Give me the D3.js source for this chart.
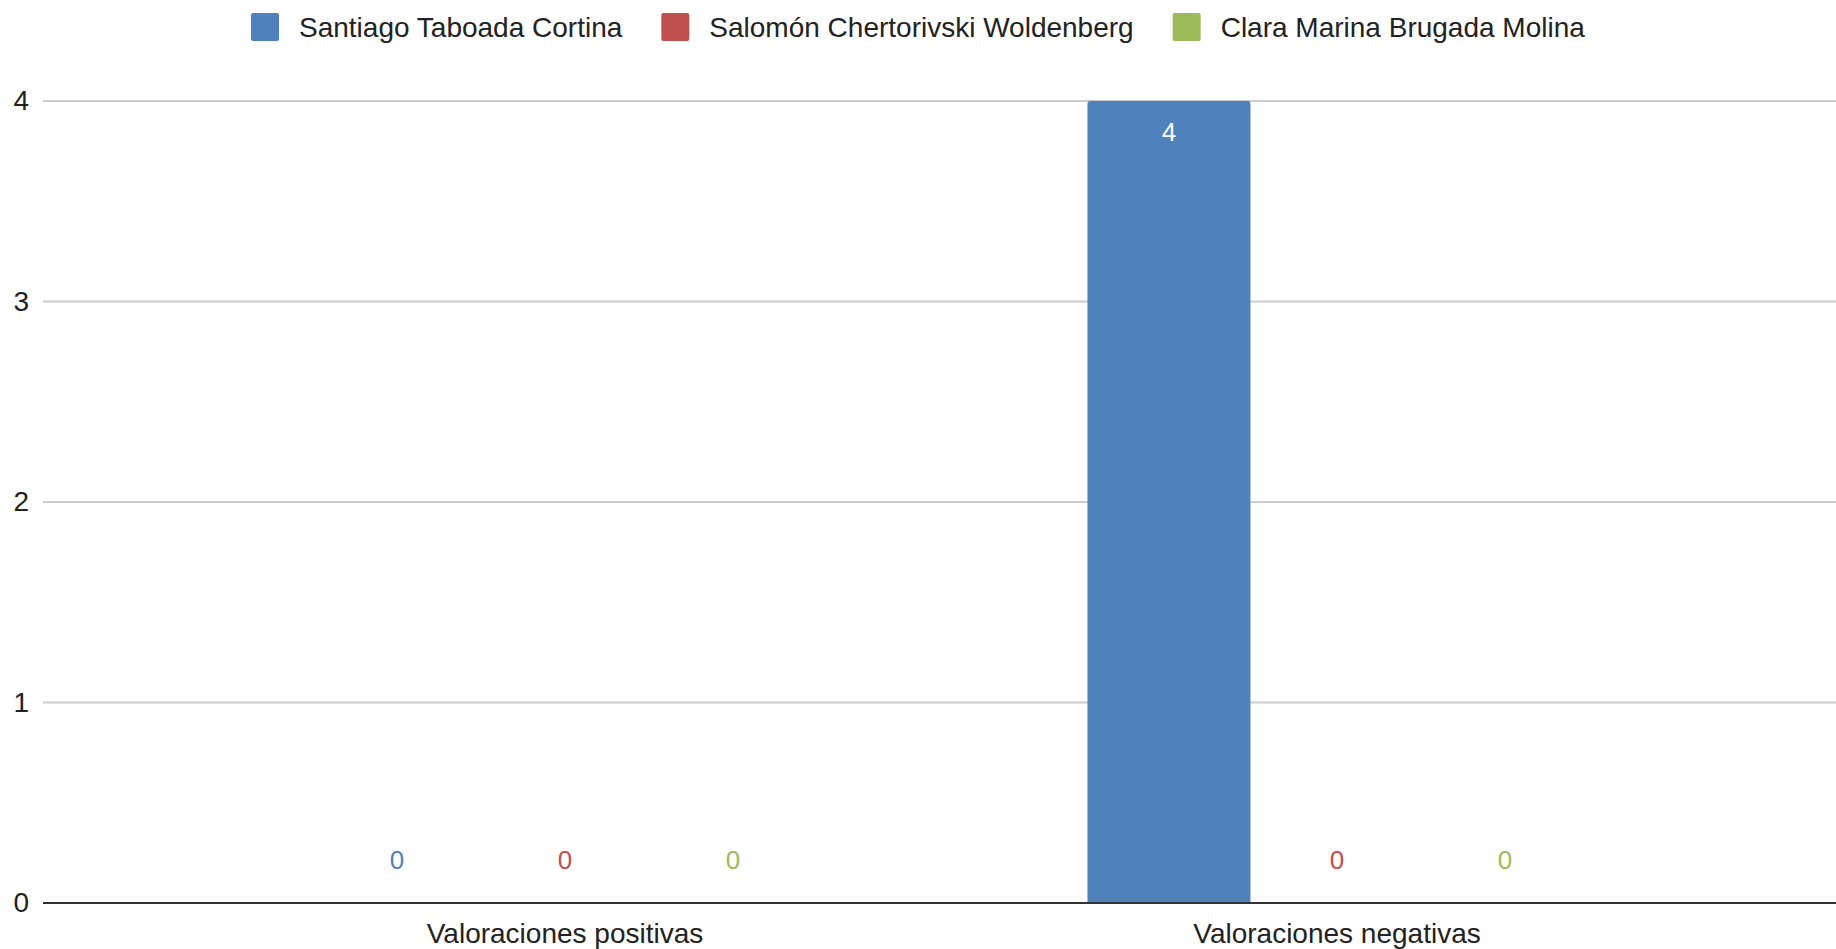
<!DOCTYPE html>
<html>
<head>
<meta charset="utf-8">
<script src="https://cdn.jsdelivr.net/npm/d3@7"></script>
<style>
  body { margin: 0; background: #fff; }
  svg text { font-family: "Liberation Sans", Arial, sans-serif; }
</style>
</head>
<body>
<svg id="chart" width="1836" height="949"></svg>
<script>
// chart data
var categories = ["Valoraciones positivas", "Valoraciones negativas"];
var seriesNames = ["Santiago Taboada Cortina", "Salomón Chertorivski Woldenberg", "Clara Marina Brugada Molina"];
var seriesColors = ["#4f81bd", "#c0504d", "#9bbb59"];
var santiago = [0, 4];
var salomon = [0, 0];
var clara = [0, 0];
var yTicks = [0, 1, 2, 3, 4];

var values = [santiago, salomon, clara];

var svg = d3.select("#chart"),
	width = +svg.attr("width"),
	height = +svg.attr("height");

var plotLeft = 43, plotRight = width;

var y = d3.scaleLinear().domain([0, 4]).range([903, 101]);

var x0 = d3.scaleBand()
	.domain(categories)
	.range([179, 1723])
	.paddingInner(0.347)
	.paddingOuter(0.1735);

var x1 = d3.scaleBand()
	.domain(seriesNames)
	.range([0, x0.bandwidth()])
	.paddingInner(0.03)
	.paddingOuter(0.015);

// gridlines
svg.append("g")
	.attr("class", "grid")
	.selectAll("line")
	.data(yTicks.filter(function(d) { return d != 0; }))
	.enter().append("line")
	.attr("x1", plotLeft)
	.attr("x2", plotRight)
	.attr("y1", function(d) { return y(d); })
	.attr("y2", function(d) { return y(d); })
	.attr("stroke", "#cccccc")
	.attr("stroke-width", 2);

// y tick labels
var yAxis = svg.append("g")
	.attr("transform", "translate(29,0)")
	.call(d3.axisLeft(y).tickValues(yTicks).tickSize(0).tickPadding(0).tickFormat(d3.format("d")));
yAxis.select(".domain").remove();
yAxis.selectAll("text")
	.attr("font-size", 28)
	.attr("font-family", "Liberation Sans, Arial, sans-serif")
	.attr("fill", "#222");

// bars
function barPath(x, y0, w, h, r) {
	if (h <= 0) return "";
	r = Math.min(r, h, w / 2);
	return "M" + x + "," + (y0 + h)
		+ "V" + (y0 + r)
		+ "Q" + x + "," + y0 + " " + (x + r) + "," + y0
		+ "H" + (x + w - r)
		+ "Q" + (x + w) + "," + y0 + " " + (x + w) + "," + (y0 + r)
		+ "V" + (y0 + h) + "Z";
}

var barData = [];
for (var s = 0; s < seriesNames.length; s++) {
	for (var c = 0; c < categories.length; c++) {
		barData.push({ series: seriesNames[s], si: s, cat: categories[c], value: values[s][c] });
	}
}

var bars = svg.append("g").attr("class", "bars");
bars.selectAll("path")
	.data(barData)
	.enter().append("path")
	.attr("fill", function(d) { return seriesColors[d.si]; })
	.attr("d", function(d) {
		var bx = x0(d.cat) + x1(d.series);
		return barPath(bx, y(d.value), x1.bandwidth(), y(0) - y(d.value), 3);
	});

// value labels
bars.selectAll("text")
	.data(barData)
	.enter().append("text")
	.attr("x", function(d) { return x0(d.cat) + x1(d.series) + x1.bandwidth() / 2; })
	.attr("y", function(d) { return d.value > 0 ? y(d.value) + 40 : y(0) - 34; })
	.attr("text-anchor", "middle")
	.attr("font-size", 26)
	.attr("fill", function(d) { return d.value > 0 ? "#ffffff" : seriesColors[d.si]; })
	.text(function(d) { return d.value; });

// zero baseline
svg.append("line")
	.attr("x1", plotLeft)
	.attr("x2", plotRight)
	.attr("y1", y(0))
	.attr("y2", y(0))
	.attr("stroke", "#333333")
	.attr("stroke-width", 2);

// category labels
svg.append("g")
	.selectAll("text")
	.data(categories)
	.enter().append("text")
	.attr("x", function(d) { return x0(d) + x0.bandwidth() / 2; })
	.attr("y", 943)
	.attr("text-anchor", "middle")
	.attr("font-size", 28)
	.attr("fill", "#222")
	.text(function(d) { return d; });

// legend
var legend = svg.append("g").attr("class", "legend");
var items = legend.selectAll("g")
	.data(seriesNames)
	.enter().append("g");

items.append("rect")
	.attr("width", 28)
	.attr("height", 28)
	.attr("y", 13)
	.attr("rx", 2)
	.attr("fill", function(d, i) { return seriesColors[i]; });

items.append("text")
	.attr("x", 48)
	.attr("y", 37)
	.attr("font-size", 28)
	.attr("fill", "#222")
	.text(function(d) { return d; });

var offset = 0, positions = [];
items.each(function() {
	var w = 48 + d3.select(this).select("text").node().getComputedTextLength();
	positions.push(offset);
	offset += w + 39;
});
var total = offset - 39;
var start = Math.round((width - total) / 2);
items.attr("transform", function(d, i) { return "translate(" + (start + positions[i]) + ",0)"; });
</script>
</body>
</html>
